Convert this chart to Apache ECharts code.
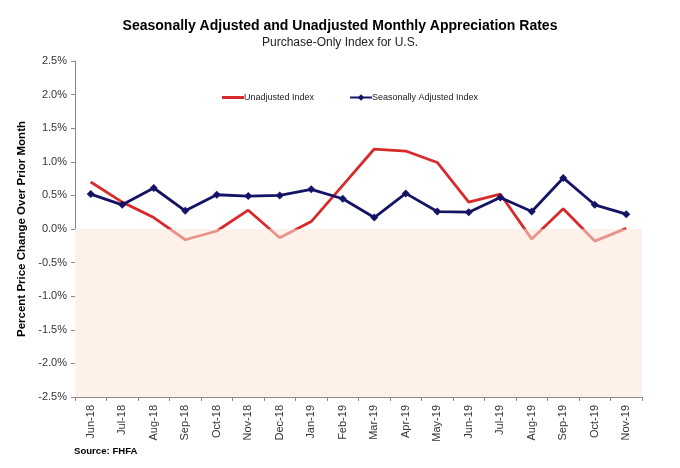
<!DOCTYPE html>
<html>
<head>
<meta charset="utf-8">
<script src="https://cdn.jsdelivr.net/npm/echarts@6/dist/echarts.min.js"></script>
<style>html,body{margin:0;padding:0;background:#fff}#c{width:680px;height:468px}</style>
</head>
<body>
<div id="c"></div>
<script>
const categories = ['Jun-18','Jul-18','Aug-18','Sep-18','Oct-18','Nov-18','Dec-18','Jan-19','Feb-19','Mar-19','Apr-19','May-19','Jun-19','Jul-19','Aug-19','Sep-19','Oct-19','Nov-19'];
const unadjusted = [0.70,0.40,0.17,-0.16,-0.03,0.28,-0.13,0.11,0.65,1.19,1.16,0.99,0.40,0.52,-0.15,0.30,-0.18,0.01];
const seasonallyAdjusted = [0.52,0.36,0.61,0.27,0.51,0.49,0.50,0.59,0.45,0.17,0.53,0.26,0.25,0.47,0.26,0.76,0.36,0.22];
const yTicks = {min:-2.5, max:2.5, interval:0.5};

const font = 'Liberation Sans, Arial, sans-serif';
const chart = echarts.init(document.getElementById('c'), null, {renderer:'canvas'});
chart.setOption({
  animation:false,
  backgroundColor:'#fff',
  title:{
    text:'Seasonally Adjusted and Unadjusted Monthly Appreciation Rates',
    subtext:'Purchase-Only Index for U.S.',
    left:'center', top:14, itemGap:4,
    textStyle:{fontFamily:font, fontSize:14, fontWeight:'bold', color:'#000'},
    subtextStyle:{fontFamily:font, fontSize:12, color:'#222'}
  },
  legend:{
    top:88, left:217, itemGap:35, itemWidth:22, itemHeight:8,
    textStyle:{fontFamily:font, fontSize:9, color:'#222', padding:[0,0,0,-5]},
    data:[
      {name:'Unadjusted Index', icon:'path://M0,0 L22,0 L22,3 L0,3 Z', itemStyle:{color:'#D82A2A'}},
      {name:'Seasonally Adjusted Index', itemStyle:{color:'#141466'}, lineStyle:{color:'#141466'}}
    ]
  },
  grid:{left:75, right:38, top:61, bottom:71, containLabel:false},
  xAxis:{
    type:'category', data:categories, boundaryGap:true,
    axisLine:{onZero:false, lineStyle:{color:'#888', width:1}},
    axisTick:{show:true, length:4, lineStyle:{color:'#888'}},
    axisLabel:{rotate:90, fontFamily:font, fontSize:11, color:'#333', margin:8}
  },
  yAxis:{
    type:'value', min:yTicks.min, max:yTicks.max, interval:yTicks.interval,
    name:'Percent Price Change Over Prior Month', nameLocation:'middle', nameGap:34,
    nameTextStyle:{fontFamily:font, fontSize:11.5, fontWeight:'bold', color:'#000'},
    axisLine:{show:true, lineStyle:{color:'#888'}},
    axisTick:{show:true, length:4, lineStyle:{color:'#888'}},
    splitLine:{show:false},
    axisLabel:{fontFamily:font, fontSize:11, color:'#333', margin:8, formatter:v=>v.toFixed(1)+'%'}
  },
  visualMap:{
    show:false, type:'piecewise', seriesIndex:0, dimension:1,
    pieces:[{min:-5, max:0, color:'#E8938B'},{gt:0, max:5, color:'#D82A2A'}]
  },
  series:[
    {
      name:'Unadjusted Index', type:'line', data:unadjusted, z:3,
      symbol:'none', showSymbol:false,
      lineStyle:{width:2.8}
    },
    {
      name:'Seasonally Adjusted Index', type:'line', data:seasonallyAdjusted, z:4,
      symbol:'diamond', symbolSize:8, showSymbol:true,
      lineStyle:{width:2.8, color:'#141466'}, itemStyle:{color:'#141466'},
      markArea:{silent:true, z:1, itemStyle:{color:'#FDF1EA'},
        data:[[{yAxis:0},{yAxis:yTicks.min}]]}
    }
  ],
  graphic:[{
    type:'text', left:74, top:446,
    style:{text:'Source: FHFA', fontFamily:font, fontSize:9.6, fontWeight:'bold', fill:'#000'}
  }]
});
</script>
</body>
</html>
